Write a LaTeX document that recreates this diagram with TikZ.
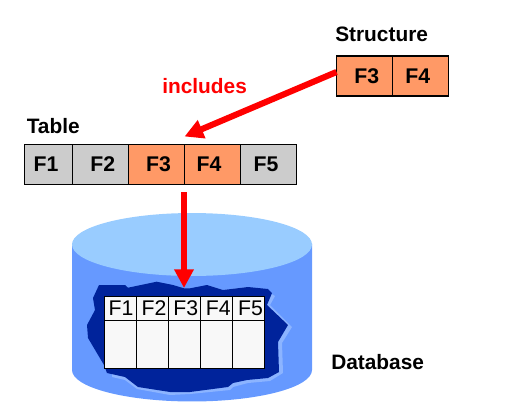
\documentclass[tikz,border=0pt]{standalone}
\usepackage{fontspec}
\setmainfont{Liberation Sans}
\usetikzlibrary{arrows.meta}
\definecolor{cellgray}{RGB}{204,204,204}
\definecolor{cellorange}{RGB}{255,153,102}
\definecolor{cyltop}{RGB}{153,204,255}
\definecolor{cylbody}{RGB}{102,153,255}
\definecolor{blobdark}{RGB}{0,35,155}
\definecolor{blobedge}{RGB}{140,180,255}
\definecolor{cellwhite}{RGB}{248,248,248}
\tikzset{
  x=0.75bp,y=-0.75bp,
  cellbase/.style={draw=black,line width=0.9bp,inner sep=0pt,outer sep=0pt,font=\fontsize{16}{18}\selectfont\bfseries},
  graycell/.style={cellbase,fill=cellgray},
  orangecell/.style={cellbase,fill=cellorange},
  headcell/.style={draw=black,line width=0.9bp,fill=cellwhite,inner sep=0pt,outer sep=0pt,minimum width=24bp,minimum height=18bp,font=\fontsize{16}{18}\selectfont},
  bodycell/.style={draw=black,line width=0.9bp,fill=cellwhite,inner sep=0pt,outer sep=0pt,minimum width=24bp,minimum height=36bp},
  titletext/.style={inner sep=0pt,font=\fontsize{15.7}{18}\selectfont\bfseries},
  redarrow/.style={draw=red,line width=4.6bp,-{Triangle[length=14bp,width=14bp]}},
}
% text shifted inside a cell by #1 px sideways and #2 px down
\newcommand{\shifted}[3]{\makebox[0pt][c]{\hspace*{\dimexpr#1\dimexpr1.5bp\relax\relax}\raisebox{\dimexpr-#2\dimexpr0.75bp\relax\relax}{#3}}}
\newcommand{\cellat}[7]{\node[#1,minimum width=#4*0.75bp,minimum height=30bp] (#2) at (#3,#5) {\shifted{#6}{0.5}{#7}};}
\begin{document}
\begin{tikzpicture}
\useasboundingbox (0,0) rectangle (528,408);
% cylinder
\fill[cylbody] (72,243.5) -- (72,370) arc[start angle=180,end angle=360,x radius=90bp,y radius=23.6bp] -- (312,243.5) -- cycle;
\fill[cyltop] (192,244.5) ellipse[x radius=90bp,y radius=23.6bp];
% blob edge
\fill[blobedge] (207,285) -- (223,290) -- (248,287) -- (270,293) -- (275,296) -- (270,305) -- (292,327) -- (282,343) -- (283,373) -- (270,381) -- (248,383) -- (233,387) -- (230,390) -- (190,394) -- (170,395) -- (137,389) -- (125,380) -- (112,377) -- (112,370) -- (200,340) -- cycle;
% blob
\fill[blobdark] (99,285) -- (125,285) -- (128,287.7) -- (156.7,281.7) -- (173,285) -- (184,288.3) -- (190,288.3) -- (207,285) -- (223,290) -- (248,287) -- (268,289) -- (272,293) -- (267,305) -- (288,325) -- (278,342) -- (279,372) -- (268,378) -- (247,380) -- (233,383) -- (228,387) -- (190,392) -- (170,392) -- (138,387) -- (125,377) -- (107,373) -- (104,365) -- (88,338) -- (87,325) -- (95,310) -- (93,298) -- cycle;
% inner table
\node[headcell] (h1) at (120.3,308.3) {\shifted{0.7}{2.8}{F1}};
\node[headcell] (h2) at (152.3,308.3) {\shifted{1.7}{2.8}{F2}};
\node[headcell] (h3) at (184.3,308.3) {\shifted{1.5}{2.8}{F3}};
\node[headcell] (h4) at (216.3,308.3) {\shifted{2}{2.8}{F4}};
\node[headcell] (h5) at (248.3,308.3) {\shifted{2.2}{2.8}{F5}};
\node[bodycell] (b1) at (120.3,344.3) {};
\node[bodycell] (b2) at (152.3,344.3) {};
\node[bodycell] (b3) at (184.3,344.3) {};
\node[bodycell] (b4) at (216.3,344.3) {};
\node[bodycell] (b5) at (248.3,344.3) {};
% table
\cellat{graycell}{t1}{48.5}{48}{164.5}{-2.5}{F1}
\cellat{graycell}{t2}{100.5}{56}{164.5}{2.2}{F2}
\cellat{orangecell}{t3}{156.5}{56}{164.5}{2}{F3}
\cellat{orangecell}{t4}{212.5}{56}{164.5}{-3.5}{F4}
\cellat{graycell}{t5}{268.5}{56}{164.5}{-2.5}{F5}
% structure
\cellat{orangecell}{s3}{364.5}{56}{76}{2.2}{F3}
\cellat{orangecell}{s4}{420.5}{56}{76}{-2.8}{F4}
% labels
\node[titletext,anchor=base west] (tlabel) at (26.5,133) {Table};
\node[titletext,anchor=base west] (slabel) at (335,41.5) {Structure};
\node[titletext,anchor=base west] (dlabel) at (331,369) {Database};
\node[titletext,anchor=base west,text=red] (inc) at (162,93) {includes};
% arrows
\coordinate (diagtip) at (184.5,136.5);
\coordinate (downstart) at (184,192);
\coordinate (downtip) at (184,288);
\draw[redarrow] (s3.west) ++(0,-4) -- (diagtip);
\draw[redarrow] (downstart) -- (downtip);
\end{tikzpicture}
\end{document}
